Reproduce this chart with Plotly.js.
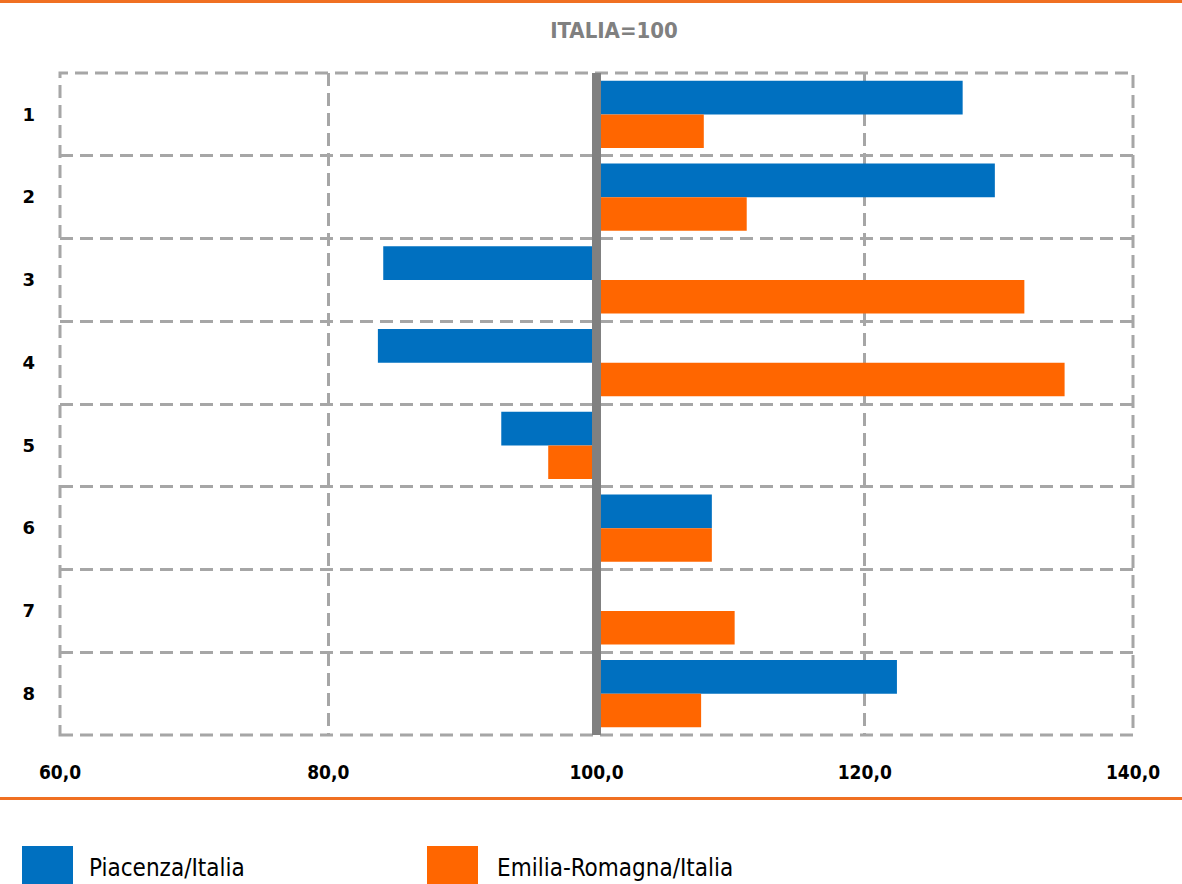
<!DOCTYPE html>
<html>
<head>
<meta charset="utf-8">
<script src="https://cdn.plot.ly/plotly-3.0.1.min.js"></script>
<style>
  html, body { margin: 0; padding: 0; background: #ffffff; }
  #chart { width: 1182px; height: 884px; }
</style>
</head>
<body>
<div id="chart"></div>
<script>
// ---- data ----
var categories = ['1', '2', '3', '4', '5', '6', '7', '8'];
var piacenza = [127.3, 129.7, 84.1, 83.7, 92.9, 108.6, null, 122.4];
var emilia = [108.0, 111.2, 131.9, 134.9, 96.4, 108.6, 110.3, 107.8];
var seriesNames = ['Piacenza/Italia', 'Emilia-Romagna/Italia'];
var seriesColors = ['#0070C0', '#FF6600'];
var baseValue = 100;
var xTicks = [60, 80, 100, 120, 140];
var titleText = 'ITALIA=100';

var narrow = '"Liberation Sans Narrow", "Arial Narrow", "DejaVu Sans Condensed", Arial, sans-serif';
var gridColor = '#A6A6A6';
var dashPat = '13px,7px';
var accent = '#F07022';

function mk(vals, i) {
  return {
    type: 'bar',
    orientation: 'h',
    name: seriesNames[i],
    y: categories,
    x: vals.map(function (v) { return v === null ? null : v - baseValue; }),
    base: baseValue,
    marker: { color: seriesColors[i], line: { width: 0 } },
    hoverinfo: 'skip'
  };
}

var data = [mk(piacenza, 0), mk(emilia, 1)];

var shapes = [
  // dashed frame
  { type: 'rect', xref: 'paper', yref: 'paper', x0: 0, x1: 1, y0: 0, y1: 1,
    line: { color: gridColor, width: 3, dash: dashPat }, layer: 'below' },
  // thick reference line at 100
  { type: 'line', xref: 'x', yref: 'paper', x0: baseValue, x1: baseValue, y0: 0, y1: 1,
    line: { color: '#808080', width: 9 }, layer: 'above' },
  // top orange rule
  { type: 'line', xref: 'paper', yref: 'paper',
    x0: -60/1073, x1: (1182-60)/1073, y0: 1 + 71.5/662, y1: 1 + 71.5/662,
    line: { color: accent, width: 3 } },
  // bottom orange rule
  { type: 'line', xref: 'paper', yref: 'paper',
    x0: -60/1073, x1: (1182-60)/1073, y0: -(798.5-735)/662, y1: -(798.5-735)/662,
    line: { color: accent, width: 3 } },
  // legend swatches
  { type: 'rect', xref: 'paper', yref: 'paper',
    x0: (22-60)/1073, x1: (73-60)/1073, y0: -(846-735)/662, y1: -(895-735)/662,
    line: { width: 0 }, fillcolor: seriesColors[0] },
  { type: 'rect', xref: 'paper', yref: 'paper',
    x0: (427-60)/1073, x1: (478-60)/1073, y0: -(846-735)/662, y1: -(895-735)/662,
    line: { width: 0 }, fillcolor: seriesColors[1] }
];

var annotations = [
  { xref: 'paper', yref: 'paper', x: (87-60)/1073, y: -(868-735)/662,
    xanchor: 'left', yanchor: 'middle', showarrow: false, text: seriesNames[0],
    font: { family: narrow, size: 24, color: '#000000' } },
  { xref: 'paper', yref: 'paper', x: (495-60)/1073, y: -(868-735)/662,
    xanchor: 'left', yanchor: 'middle', showarrow: false, text: seriesNames[1],
    font: { family: narrow, size: 24, color: '#000000' } }
];

var layout = {
  width: 1182,
  height: 884,
  margin: { l: 60, r: 49, t: 73, b: 149, pad: 0 },
  paper_bgcolor: '#ffffff',
  plot_bgcolor: '#ffffff',
  separators: ',.',
  showlegend: false,
  barmode: 'group',
  bargap: 0.19,
  bargroupgap: 0,
  title: {
    text: titleText,
    xref: 'container', yref: 'container',
    x: 614/1182, y: 1 - 30/884, xanchor: 'center', yanchor: 'middle',
    font: { family: narrow, size: 22, color: '#808080', weight: 'bold' }
  },
  xaxis: {
    range: [60, 140],
    tickvals: xTicks,
    tickformat: '.1f',
    showgrid: true,
    gridcolor: gridColor,
    gridwidth: 3,
    griddash: dashPat,
    zeroline: false,
    showline: false,
    ticks: '',
    ticklabelstandoff: 24,
    tickfont: { family: narrow, size: 19, color: '#000000', weight: 'bold' },
    fixedrange: true
  },
  yaxis: {
    type: 'category',
    categoryorder: 'array',
    categoryarray: categories,
    autorange: 'reversed',
    tickson: 'boundaries',
    showgrid: true,
    gridcolor: gridColor,
    gridwidth: 3,
    griddash: dashPat,
    zeroline: false,
    showline: false,
    ticks: '',
    ticklabelstandoff: 24,
    tickfont: { family: '"DejaVu Sans", Verdana, sans-serif', size: 18, color: '#000000', weight: 'bold' },
    fixedrange: true
  },
  shapes: shapes,
  annotations: annotations
};

Plotly.newPlot('chart', data, layout, { displayModeBar: false, staticPlot: true });
</script>
</body>
</html>
